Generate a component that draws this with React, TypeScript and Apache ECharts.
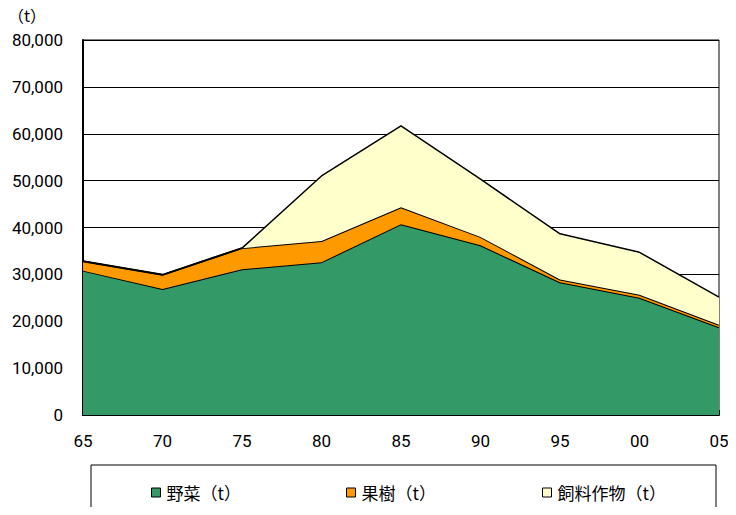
import React, { useEffect, useRef } from "react";
import * as echarts from "echarts";

const categories = ["65", "70", "75", "80", "85", "90", "95", "00", "05"];
const vegetables = [30800, 26900, 31100, 32600, 40700, 36200, 28300, 25000, 18700];
const fruit = [2000, 3000, 4500, 4500, 3600, 1800, 600, 650, 550];
const feed = [0, 0, 0, 13900, 17400, 12300, 9750, 9050, 5900];
const seriesNames = ["野菜（t）", "果樹（t）", "飼料作物（t）"];
const colors = ["#339966", "#FF9900", "#FFFFCC"];

const FONT = "'Noto Sans CJK JP', 'Noto Sans', sans-serif";
const NUMFONT = "Roboto, 'Noto Sans', sans-serif";

export default function App() {
  const ref = useRef<HTMLDivElement>(null);
  useEffect(() => {
    if (!ref.current) return;
    const chart = echarts.init(ref.current, null, { renderer: "svg" });
    const datasets = [vegetables, fruit, feed];
    const legendLefts = [151, 346, 542];
    chart.setOption({
      animation: false,
      backgroundColor: "#fff",
      textStyle: { fontFamily: FONT },
      grid: {
        left: 83,
        right: 17,
        top: 40,
        bottom: 100,
        show: true,
        borderColor: "#000",
        borderWidth: 1,
        backgroundColor: "transparent",
      },
      graphic: [
        {
          type: "text",
          left: 8,
          top: 7,
          style: { text: "（t）", fontSize: 16, fill: "#000", fontFamily: FONT },
        },
        {
          type: "rect",
          shape: { x: 91, y: 465, width: 625, height: 60 },
          style: { fill: "none", stroke: "#000", lineWidth: 1 },
          z: 10,
        },
      ],
      legend: seriesNames.map((n, i) => ({
        data: [n],
        left: legendLefts[i],
        top: 484,
        padding: 0,
        icon: "rect",
        itemWidth: 9,
        itemHeight: 9,
        itemGap: 3,
        textStyle: { fontSize: 17, color: "#000", fontFamily: FONT, padding: [0, 0, 0, 1] },
        itemStyle: { borderColor: "#000", borderWidth: 1 },
      })),
      xAxis: {
        type: "category",
        data: categories,
        boundaryGap: false,
        axisLine: { lineStyle: { color: "#000", width: 2 } },
        axisTick: { inside: true, length: 5, lineStyle: { color: "#000" } },
        axisLabel: { fontSize: 17, color: "#000", margin: 17, fontFamily: NUMFONT },
      },
      yAxis: {
        type: "value",
        min: 0,
        max: 80000,
        interval: 10000,
        axisLine: { show: true, lineStyle: { color: "#000", width: 2 } },
        axisTick: { show: true, inside: true, length: 5, lineStyle: { color: "#000" } },
        splitLine: { lineStyle: { color: "#000", width: 1 } },
        axisLabel: {
          fontSize: 17,
          color: "#000",
          margin: 20,
          fontFamily: NUMFONT,
          formatter: (v: number) => v.toLocaleString("en-US"),
        },
      },
      series: datasets.map((d, i) => ({
        name: seriesNames[i],
        type: "line",
        stack: "total",
        data: d,
        symbol: "none",
        color: colors[i],
        lineStyle: { color: "#000", width: i === 2 ? 1.5 : 2 },
        areaStyle: { color: colors[i], opacity: 1 },
        itemStyle: { color: colors[i], borderColor: "#000", borderWidth: 1 },
        z: 2 + i,
      })),
    });
    return () => chart.dispose();
  }, []);
  return <div ref={ref} style={{ width: 736, height: 515, margin: -8 }} />;
}
